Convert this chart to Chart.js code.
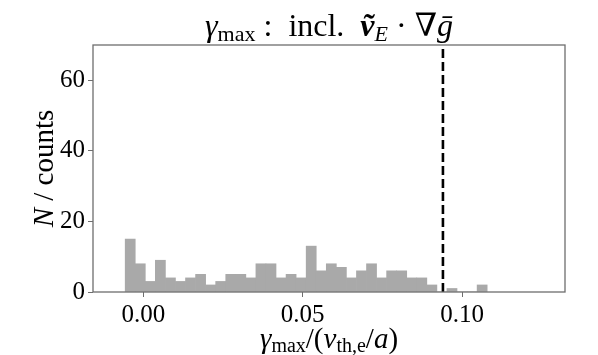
<!DOCTYPE html>
<html>
<head>
<meta charset="utf-8">
<script src="https://cdn.jsdelivr.net/npm/chart.js@4/dist/chart.umd.min.js"></script>
<style>
  html, body { margin: 0; padding: 0; background: #fff; }
  canvas { display: block; }
</style>
</head>
<body>
<canvas id="c" width="598" height="355"></canvas>
<script>
// ---- data ----
const binCounts = [15, 8, 3, 9, 4, 3, 4, 5, 2, 3, 5, 5, 4, 8, 8, 4, 5, 4,
                   13, 6, 8, 7, 4, 6, 8, 4, 6, 6, 4, 4, 2, 0, 1, 0, 0, 2];
const binStart = -0.0057;      // left edge of first bin
const binWidth = 0.003155;     // histogram bin width
const thresholdValue = 0.094;  // dashed vertical line
const xTickValues = [0.00, 0.05, 0.10];
const xTickLabels = ['0.00', '0.05', '0.10'];
const yTickValues = [0, 20, 40, 60];
const yTickLabels = ['0', '20', '40', '60'];
const xRange = [-0.0158, 0.1323];
const yRange = [0, 70];

const binCenters = binCounts.map((_, i) => binStart + (i + 0.5) * binWidth);
const barData = binCounts.map((c, i) => ({ x: binCenters[i], y: c }));
const lineData = [{ x: thresholdValue, y: yRange[0] }, { x: thresholdValue, y: yRange[1] }];

const SERIF = '"Liberation Serif", "DejaVu Serif", serif';
const AXIS_COLOR = '#6e6e6e';

function drawRich(ctx, segs, x, y, align) {
  let total = 0;
  segs.forEach(s => { ctx.font = s.font; s.w = ctx.measureText(s.t).width; total += s.w; });
  let cx = align === 'center' ? x - total / 2 : x;
  ctx.textAlign = 'left';
  ctx.textBaseline = 'alphabetic';
  segs.forEach(s => {
    ctx.font = s.font;
    ctx.fillText(s.t, cx, y + (s.dy || 0));
    cx += s.w;
  });
}

const textPlugin = {
  id: 'texts',
  afterDraw(chart) {
    const ctx = chart.ctx;
    const a = chart.chartArea;
    ctx.save();
    // frame
    ctx.strokeStyle = AXIS_COLOR;
    ctx.lineWidth = 1.3;
    ctx.strokeRect(a.left, a.top, a.right - a.left, a.bottom - a.top);
    ctx.fillStyle = '#000';
    const cx = (a.left + a.right) / 2;
    // title
    drawRich(ctx, [
      { t: 'γ', font: 'italic 32px ' + SERIF },
      { t: 'max', font: '22px ' + SERIF, dy: 5 },
      { t: ' :  incl.  ', font: '32px ' + SERIF },
      { t: 'ṽ', font: 'bold italic 32px ' + SERIF },
      { t: 'E', font: 'italic 22px ' + SERIF, dy: 5 },
      { t: ' · ∇', font: '32px ' + SERIF },
      { t: 'ḡ', font: 'italic 32px ' + SERIF }
    ], cx, 36, 'center');
    // x label
    drawRich(ctx, [
      { t: 'γ', font: 'italic 29px ' + SERIF },
      { t: 'max', font: '20px ' + SERIF, dy: 4 },
      { t: '/(', font: '29px ' + SERIF },
      { t: 'v', font: 'italic 29px ' + SERIF },
      { t: 'th,e', font: '20px ' + SERIF, dy: 4 },
      { t: '/', font: '29px ' + SERIF },
      { t: 'a', font: 'italic 29px ' + SERIF },
      { t: ')', font: '29px ' + SERIF }
    ], cx, 348, 'center');
    // y label
    ctx.translate(53, (a.top + a.bottom) / 2);
    ctx.rotate(-Math.PI / 2);
    drawRich(ctx, [
      { t: 'N', font: 'italic 29px ' + SERIF },
      { t: ' / counts', font: '29px ' + SERIF }
    ], 0, 0, 'center');
    ctx.restore();
  }
};

new Chart(document.getElementById('c'), {
  type: 'bar',
  data: {
    datasets: [
      {
        type: 'line',
        data: lineData,
        borderColor: '#000',
        borderWidth: 2.6,
        borderDash: [9, 4],
        pointRadius: 0,
        fill: false,
        order: 0
      },
      {
        type: 'bar',
        data: barData,
        backgroundColor: '#a9a9a9',
        borderWidth: 0,
        barPercentage: 1.0,
        categoryPercentage: 1.0,
        order: 1
      }
    ]
  },
  options: {
    responsive: false,
    animation: false,
    devicePixelRatio: 1,
    layout: { padding: { left: 0, top: 45, right: 33, bottom: 0 } },
    plugins: { legend: { display: false }, tooltip: { enabled: false }, title: { display: false } },
    scales: {
      x: {
        type: 'linear',
        min: xRange[0],
        max: xRange[1],
        offset: false,
        grid: { display: true, drawOnChartArea: false, drawTicks: true, tickLength: 5, color: AXIS_COLOR, lineWidth: 1, offset: false },
        border: { display: false },
        afterBuildTicks: s => { s.ticks = xTickValues.map(v => ({ value: v })); },
        afterFit: s => { s.height = 63; },
        ticks: {
          autoSkip: false,
          maxRotation: 0,
          padding: 3,
          color: '#000',
          font: { family: SERIF, size: 25 },
          callback: (v, i) => xTickLabels[i]
        }
      },
      y: {
        min: yRange[0],
        max: yRange[1],
        grid: { display: true, drawOnChartArea: false, drawTicks: true, tickLength: 5, color: AXIS_COLOR, lineWidth: 1 },
        border: { display: false },
        afterBuildTicks: s => { s.ticks = yTickValues.map(v => ({ value: v })); },
        afterFit: s => { s.width = 93; },
        ticks: {
          autoSkip: false,
          padding: 3,
          color: '#000',
          font: { family: SERIF, size: 25 },
          callback: (v, i) => yTickLabels[i]
        }
      }
    }
  },
  plugins: [textPlugin]
});
</script>
</body>
</html>
